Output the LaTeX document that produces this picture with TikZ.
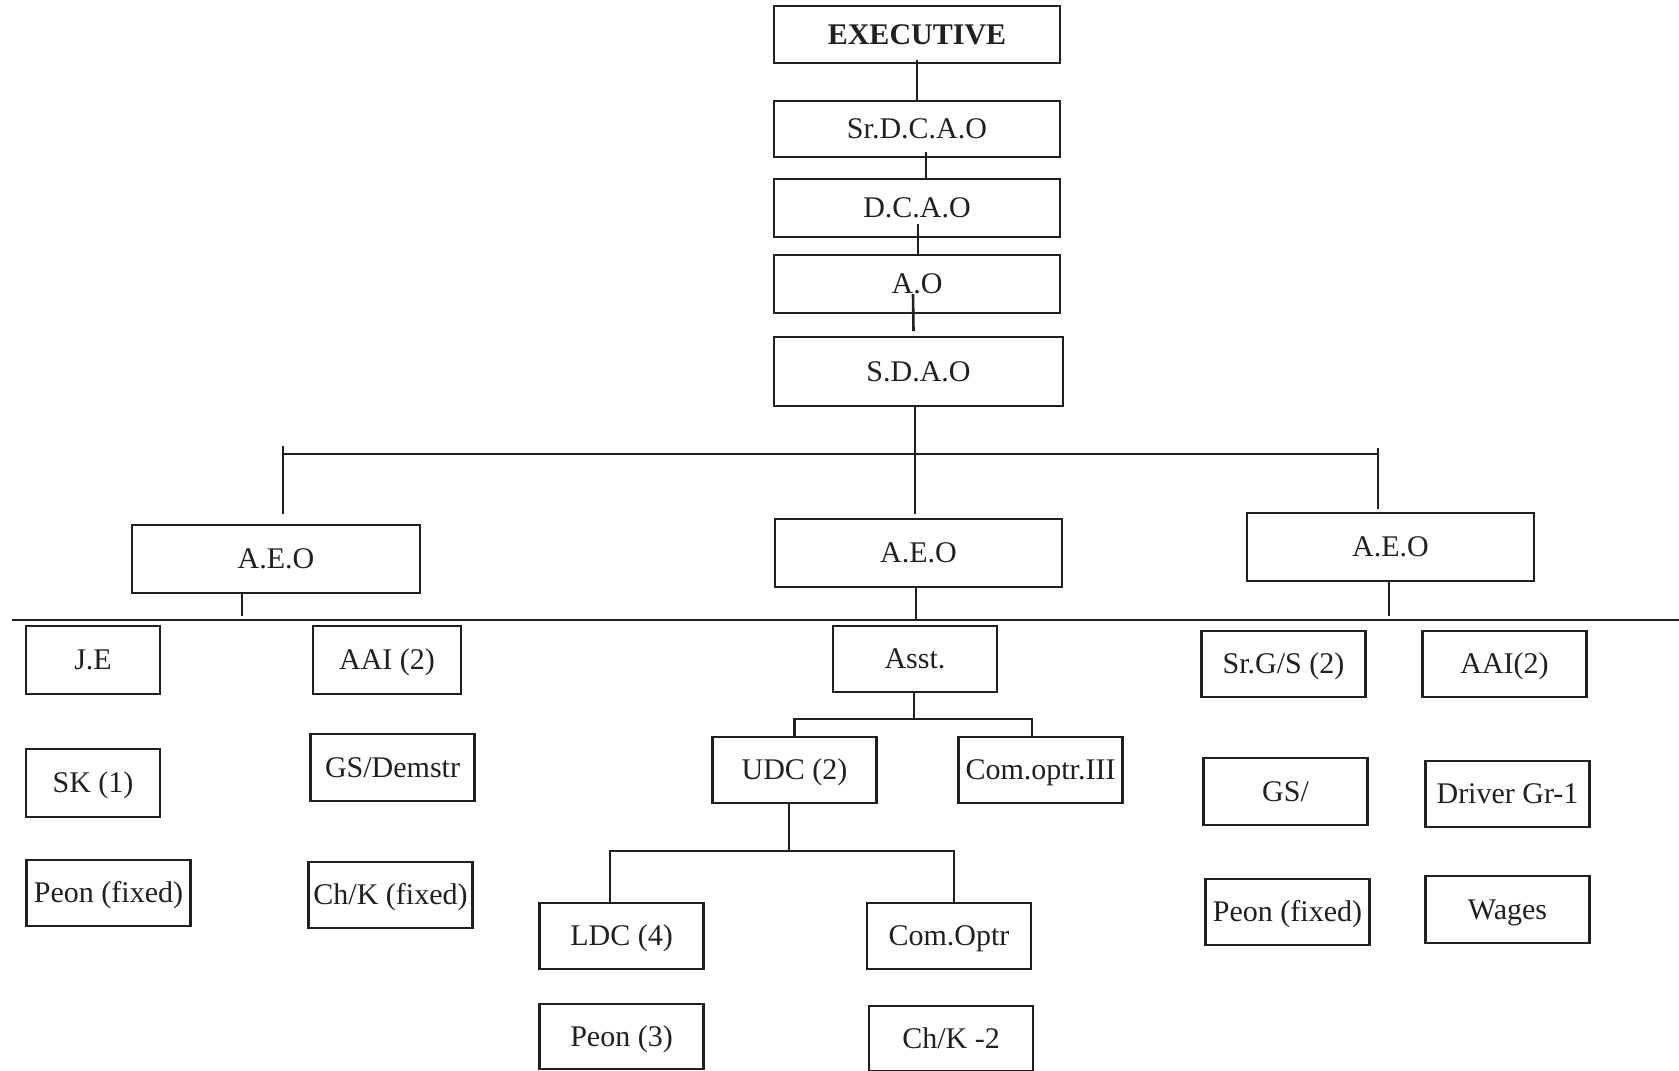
\documentclass[tikz,border=0pt]{standalone}
\usepackage{fontspec}
\setmainfont{Liberation Serif}
\usetikzlibrary{calc}
\definecolor{ink}{HTML}{231F20}
\begin{document}
\begin{tikzpicture}[x=1pt,y=-1pt,
  font=\fontsize{30}{36}\selectfont,
  box/.style={draw=ink,line width=2.6pt,text=ink,inner sep=0pt,outer sep=0pt,
    text height=19.7pt,text depth=0pt,align=center},
  wide/.style={box,minimum width=286pt,minimum height=57pt},
  small/.style={box,minimum width=164pt,minimum height=66pt},
  link/.style={draw=ink,line width=2.6pt}]
\useasboundingbox (0,0) rectangle (1679,1071);

% top chain
\node[wide,minimum height=57pt,font=\fontsize{30}{36}\selectfont\bfseries] (exec) at (917,34.5) {EXECUTIVE};
\node[wide,minimum height=56pt] (sr)   at (917,129)   {Sr.D.C.A.O};
\node[wide,minimum height=58pt] (dcao) at (917,208)   {D.C.A.O};
\node[wide,minimum height=58pt] (ao)   at (917,284)   {A.O};
\node[wide,minimum width=289pt,minimum height=69pt] (sdao) at (918.5,371.5) {S.D.A.O};

% assistant executive officers
\node[wide,minimum width=288pt,minimum height=68pt] (aeoL) at (276,559)    {A.E.O};
\node[wide,minimum width=287pt,minimum height=68pt] (aeoM) at (918.5,553)  {A.E.O};
\node[wide,minimum width=287pt,minimum height=68pt] (aeoR) at (1390.5,547) {A.E.O};

% left branch
\node[small,minimum width=134pt,minimum height=68pt] (je)  at (93,660)    {J.E};
\node[small,minimum width=134pt,minimum height=68pt] (sk)  at (93,783)    {SK (1)};
\node[small] (peonL) at (108.5,893) {Peon (fixed)};
\node[small,minimum width=148pt,minimum height=68pt] (aaiL) at (387,660) {AAI (2)};
\node[small,minimum height=67pt] (gsd)  at (392.5,767.5) {GS/Demstr};
\node[small] (chkL) at (390.5,895) {Ch/K (fixed)};

% middle branch
\node[small] (asst)  at (915,659)    {Asst.};
\node[small] (udc)   at (794.5,770)  {UDC (2)};
\node[small] (com3)  at (1040.5,770) {Com.optr.III};
\node[small] (ldc)   at (621.5,936)  {LDC (4)};
\node[small] (comop) at (949,936)    {Com.Optr};
\node[small,minimum height=65pt] (peon3) at (621.5,1036.5) {Peon (3)};
\node[small,minimum height=65pt] (chk2)  at (951,1038.5)   {Ch/K -2};

% right branch
\node[small] (srgs)   at (1283.5,664)   {Sr.G/S (2)};
\node[small] (aaiR)   at (1504.5,664)   {AAI(2)};
\node[small,minimum height=67pt] (gs) at (1285.5,791.5) {GS/};
\node[small] (driver) at (1507.5,794)   {Driver Gr-1};
\node[small] (peonR)  at (1287.5,912)   {Peon (fixed)};
\node[small,minimum height=67pt] (wages) at (1507.5,909.5) {Wages};

% bus coordinates
\coordinate (busL) at (283,454);
\coordinate (busR) at (1378,454);
\coordinate (lowL) at (12,620);
\coordinate (lowR) at (1679,620);
\coordinate (asstBus) at (914,719);
\coordinate (udcBus) at (789,851);

% chain connectors
\draw[link] ([yshift=3pt]exec.south) -- (sr.north);
\draw[link] ([xshift=9pt,yshift=5pt]sr.south) -- ([xshift=9pt]dcao.north);
\draw[link] ([xshift=1pt,yshift=13pt]dcao.south) -- ([xshift=1pt]ao.north);
\draw[link] ([xshift=-4pt,yshift=19pt]ao.south) -- ([xshift=-5pt,yshift=6pt]sdao.north);
\draw[link] ([xshift=-3.5pt]sdao.south) -- ([xshift=-3.5pt,yshift=5pt]aeoM.north);

% upper bus
\draw[link] (busL) -- (busR);
\draw[link] ($(busL)+(0,-8)$) -- ($(aeoL.north -| busL)+(0,-11)$);
\draw[link] ($(busR)+(0,-6)$) -- ($(aeoR.north -| busR)+(0,-4)$);

% lower bus
\draw[link] (lowL) -- (lowR);
\draw[link] ([xshift=-34pt]aeoL.south) -- ($(aeoL.south -| 242,0)+(0,23)$);
\draw[link] ([xshift=-2.5pt]aeoM.south) -- ($(aeoM.south -| 916,0)+(0,32)$);
\draw[link] ([xshift=-1.5pt]aeoR.south) -- ($(aeoR.south -| 1389,0)+(0,35)$);

% assistant's subordinates
\draw[link] ([xshift=-1pt]asst.south) -- (asstBus);
\draw[link] (udc.north) |- (asstBus) -| ([xshift=-8.5pt]com3.north);

% UDC's subordinates
\draw[link] ([xshift=-5.5pt]udc.south) -- (udcBus);
\draw[link] ([xshift=-11.5pt]ldc.north) |- (udcBus) -| ([xshift=5pt]comop.north);
\end{tikzpicture}
\end{document}
